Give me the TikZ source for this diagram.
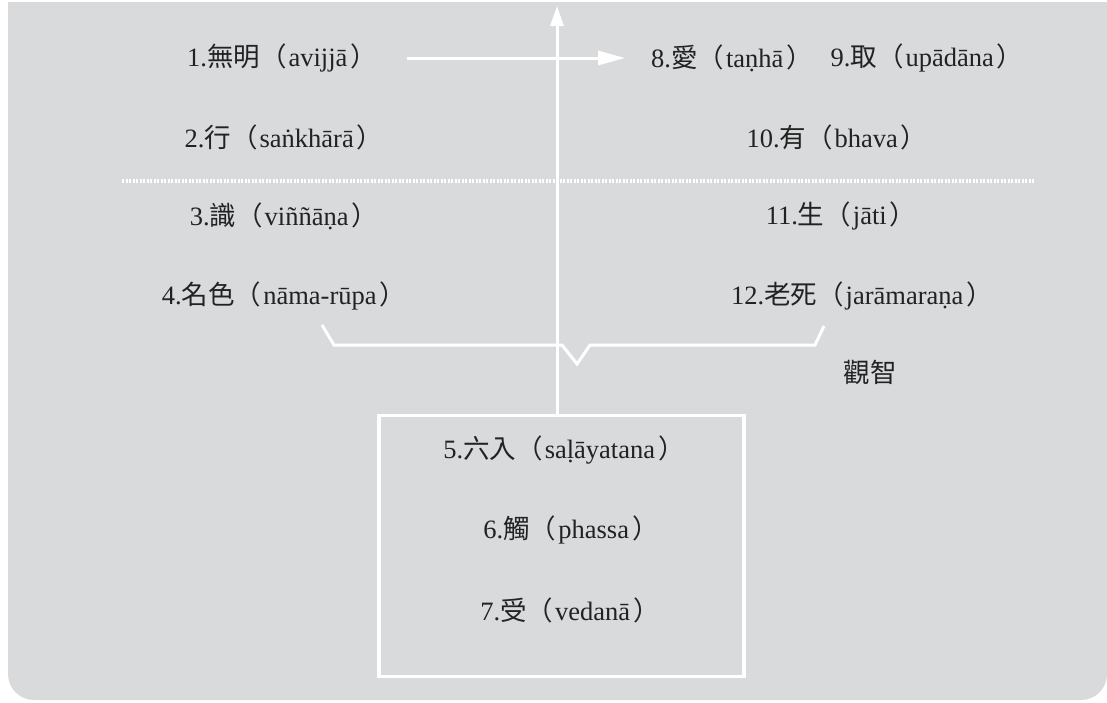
\documentclass[tikz,border=0pt]{standalone}
\usepackage{fontspec}
\setmainfont{Liberation Serif}
\newfontfamily\cjk{Noto Sans CJK TC}
\newcommand\zhc[1]{{\cjk #1}}
\newcommand\lp{\zhc{（}\hspace{2pt}}
\newcommand\rp{\hspace{3pt}\zhc{）}}
\usetikzlibrary{arrows.meta}
\definecolor{bg}{HTML}{D9DADC}
\definecolor{ink}{HTML}{222222}
\begin{document}
\begin{tikzpicture}[x=1pt,y=-1pt,
  lbl/.style={text=ink, font=\fontsize{26.5}{31}\selectfont, inner sep=0pt},
  wline/.style={draw=white, line width=3pt},
  dotline/.style={draw=white, line width=3.5pt, dash pattern=on 2.4pt off 1.1pt},
  stagebox/.style={draw=white, line width=3.5pt, fill=none}]
\useasboundingbox (0,0) rectangle (1107,702);
\fill[white] (0,0) rectangle (1107,702);
\begin{scope}
\clip (0,2) rectangle (1107,702);
\fill[bg, rounded corners=26pt] (8,-60) rectangle (1107,700);
\end{scope}

% labels
\node[lbl] (n1) at (282,58) {1.\zhc{無明}\lp avijjā\rp};
\node[lbl] (n8) at (732,58) {8.\zhc{愛}\lp taṇhā\rp};
\node[lbl] (n9) at (927,58) {9.\zhc{取}\lp upādāna\rp};
\node[lbl] (n2) at (284,137) {2.\zhc{行}\lp saṅkhārā\rp};
\node[lbl] (n10) at (837,137) {10.\zhc{有}\lp bhava\rp};
\node[lbl] (n3) at (284,216) {3.\zhc{識}\lp viññāṇa\rp};
\node[lbl] (n11) at (841,216) {11.\zhc{生}\lp jāti\rp};
\node[lbl] (n4) at (284,296) {4.\zhc{名色}\lp nāma-rūpa\rp};
\node[lbl] (n12) at (862,296) {12.\zhc{老死}\lp jarāmaraṇa\rp};
\node[lbl] (gz) at (870,372) {\zhc{觀智}};

% box
\node[stagebox, minimum width=365pt, minimum height=261pt, inner sep=0pt] (box) at (561.5,546) {};
\node[lbl] (n5) at (564,450) {5.\zhc{六入}\lp saḷāyatana\rp};
\node[lbl] (n6) at (571,530) {6.\zhc{觸}\lp phassa\rp};
\node[lbl] (n7) at (570,610) {7.\zhc{受}\lp vedanā\rp};

% dotted divider
\coordinate (dl) at (122,181);
\coordinate (dr) at (1035,181);
\draw[dotline] (dl) -- (dr);

% brace
\coordinate (bl) at (322,325);
\coordinate (br) at (824,326);
\draw[wline, line join=miter] (bl) -- (334,345) -- (562,345) -- (577,364) -- (590,345) -- (815,345) -- (br);

% vertical arrow
\coordinate (vtop) at (557,6);
\draw[wline, -{Triangle[width=13pt,length=20pt]}] (box.north -| vtop) -- (vtop);

% horizontal arrow
\coordinate (hs) at (407,58);
\coordinate (he) at (625,58);
\draw[wline, -{Triangle[width=14pt,length=27pt]}] (hs) -- (he);
\end{tikzpicture}
\end{document}
